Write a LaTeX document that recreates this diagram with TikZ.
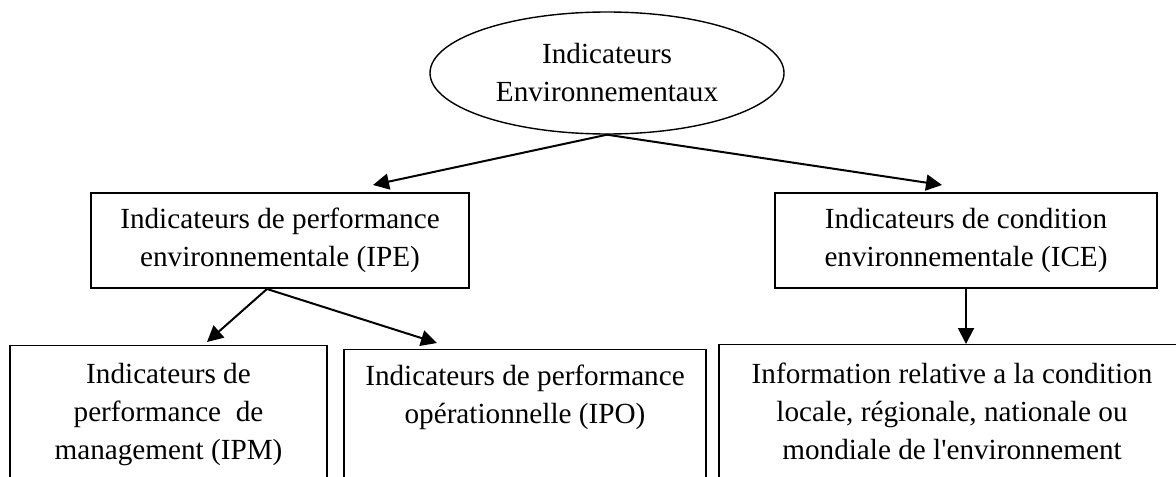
\documentclass[tikz,border=0pt]{standalone}
\usepackage{fontspec}
\setmainfont{Liberation Serif}
\usetikzlibrary{shapes.geometric,arrows.meta}

\begin{document}
\begin{tikzpicture}[x=0.5pt, y=-0.5pt,
    every node/.style={font=\fontsize{14.6}{19}\selectfont, align=center},
    topbox/.style={draw, ellipse, line width=0.7pt, minimum width=177pt, minimum height=61pt, inner sep=0pt},
    midbox/.style={draw, rectangle, line width=0.6pt, minimum height=47.5pt, inner sep=0pt},
    lowbox/.style={draw, rectangle, line width=0.6pt, minimum height=90pt, anchor=north, inner sep=0pt},
    lowtext/.style={anchor=north, inner sep=0pt},
    link/.style={line width=1pt, -{Triangle[length=8pt, width=8pt]}}]
    \useasboundingbox (0,0) rectangle (1176,476);
    \clip (0,0) rectangle (1176,476);

    % Top level
    \node[topbox] (env) at (607,73) {Indicateurs\\Environnementaux};

    % Second level
    \node[midbox, minimum width=189pt] (ipe) at (280,240.5) {Indicateurs de performance\\environnementale (IPE)};
    \node[midbox, minimum width=191pt] (ice) at (966,240.5) {Indicateurs de condition\\environnementale (ICE)};

    % Third level (boxes run past the frame)
    \node[lowbox, minimum width=158.5pt] (ipm) at (168.5,345) {};
    \node[lowbox, minimum width=181pt] (ipo) at (525,349) {};
    \node[lowbox, minimum width=233pt] (info) at (952,344) {};
    \node[lowtext] (ipmtext) at (168.5,363) {Indicateurs de\\performance\ \ de\\management (IPM)};
    \node[lowtext] (ipotext) at (525,365) {Indicateurs de performance\\op\'erationnelle (IPO)};
    \node[lowtext] (infotext) at (952,363) {Information relative a la condition\\locale, r\'egionale, nationale ou\\mondiale de l\textquotesingle environnement};

    % Arrows
    \coordinate (ipein) at (373,185);
    \coordinate (icein) at (942,185);
    \coordinate (ipeout) at (267,289);
    \coordinate (ipmin) at (207,342);
    \coordinate (ipoin) at (437,343);
    \draw[link] (env.south) -- (ipein);
    \draw[link] (env.south) -- (icein);
    \draw[link] (ipeout) -- (ipmin);
    \draw[link] (ipeout) -- (ipoin);
    \draw[link] (ice.south) -- (ice.south |- info.north);
\end{tikzpicture}
\end{document}
